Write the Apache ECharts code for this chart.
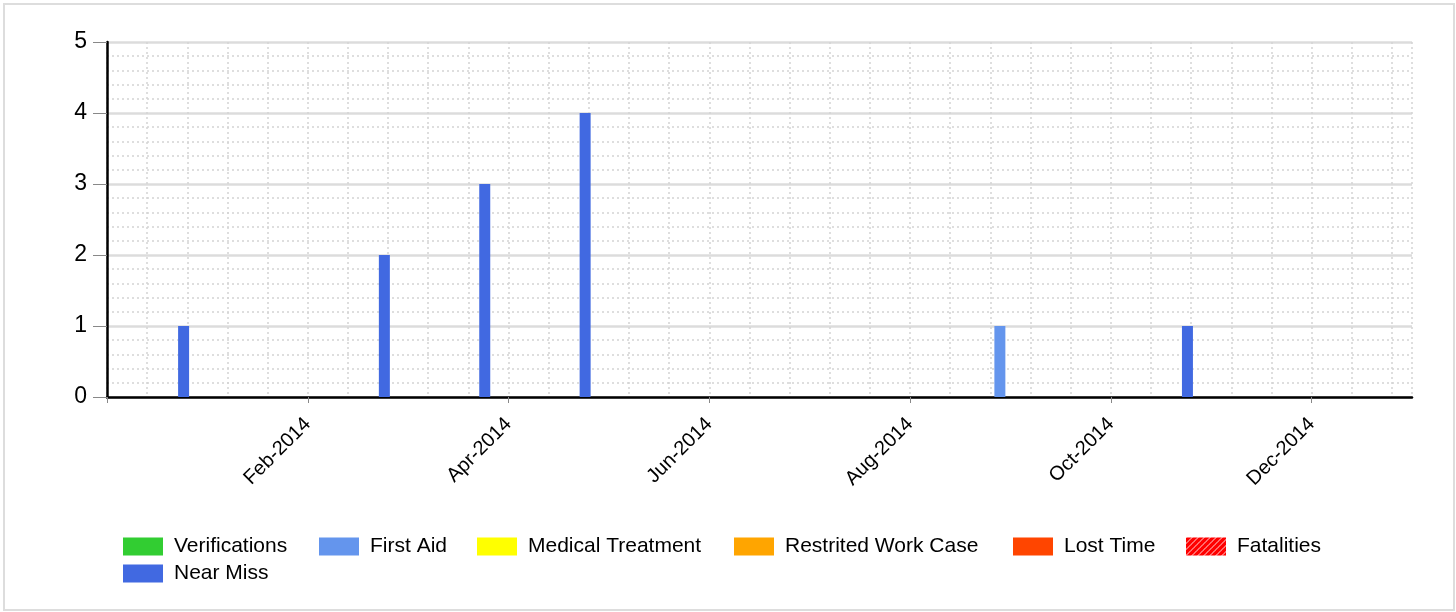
<!DOCTYPE html>
<html>
<head>
<meta charset="utf-8">
<script src="https://cdn.jsdelivr.net/npm/echarts@6/dist/echarts.min.js"></script>
<style>
  html, body { margin: 0; padding: 0; background: #fff; }
  #chart { position: absolute; left: 0; top: 0; width: 1456px; height: 612px; }
  #frame { position: absolute; left: 3px; top: 3px; width: 1452px; height: 608px;
           box-sizing: border-box; border: 2px solid #dddddd; pointer-events: none; }
</style>
</head>
<body>
<div id="chart"></div>
<div id="frame"></div>
<script>
// ---- data ----
const months = ['Dec-2013','Jan-2014','Feb-2014','Mar-2014','Apr-2014','May-2014','Jun-2014',
                'Jul-2014','Aug-2014','Sep-2014','Oct-2014','Nov-2014','Dec-2014'];
const tickMonths = ['Dec-2013','Jan-2014','Feb-2014','Mar-2014','Apr-2014','May-2014','Jun-2014',
                    'Jul-2014','Aug-2014','Sep-2014','Oct-2014','Nov-2014','Dec-2014','Jan-2015'];
const verifications     = [0,0,0,0,0,0,0,0,0,0,0,0,0];
const firstAid          = [0,0,0,0,0,0,0,0,1,0,0,0,0];
const medicalTreatment  = [0,0,0,0,0,0,0,0,0,0,0,0,0];
const restritedWorkCase = [0,0,0,0,0,0,0,0,0,0,0,0,0];
const lostTime          = [0,0,0,0,0,0,0,0,0,0,0,0,0];
const fatalities        = [0,0,0,0,0,0,0,0,0,0,0,0,0];
const nearMiss          = [1,0,2,3,4,0,0,0,0,0,1,0,0];
const yTicks = [0,1,2,3,4,5];

// ---- styles ----
const FONT = '"Liberation Sans", Arial, sans-serif';
function hatch() {
  const c = document.createElement('canvas');
  c.width = 6; c.height = 6;
  const g = c.getContext('2d');
  g.fillStyle = '#ff0000'; g.fillRect(0, 0, 6, 6);
  g.strokeStyle = 'rgba(255,255,255,0.85)'; g.lineWidth = 1;
  g.beginPath();
  g.moveTo(-1, 7); g.lineTo(7, -1);
  g.moveTo(-4, 4); g.lineTo(4, -4);
  g.moveTo(2, 10); g.lineTo(10, 2);
  g.stroke();
  return { image: c, repeat: 'repeat' };
}

const seriesDefs = [
  { name: 'Verifications', data: verifications, color: '#32cd32' },
  { name: 'Medical Treatment', data: medicalTreatment, color: '#ffff00' },
  { name: 'Restrited Work Case', data: restritedWorkCase, color: '#ffa500' },
  { name: 'Lost Time', data: lostTime, color: '#ff4500' },
  { name: 'Fatalities', data: fatalities, color: hatch() },
  { name: 'Near Miss', data: nearMiss, color: '#4169e1' },
  { name: 'First Aid', data: firstAid, color: '#6495ed' }
];

const legendPos = [
  { name: 'Verifications', left: 123, top: 536 },
  { name: 'First Aid', left: 319, top: 536 },
  { name: 'Medical Treatment', left: 477, top: 536 },
  { name: 'Restrited Work Case', left: 734, top: 536 },
  { name: 'Lost Time', left: 1013, top: 536 },
  { name: 'Fatalities', left: 1186, top: 536 },
  { name: 'Near Miss', left: 123, top: 563 }
];

const chart = echarts.init(document.getElementById('chart'), null, { renderer: 'canvas' });
const option = {
  animation: false,
  backgroundColor: '#ffffff',
  textStyle: { fontFamily: FONT },
  grid: { left: 107, top: 42, width: 1305, height: 355, containLabel: false },
  legend: legendPos.map(l => ({
    data: [l.name], left: l.left, top: l.top, padding: 0, itemGap: 0,
    icon: 'rect', itemWidth: 40, itemHeight: 18, selectedMode: false,
    textStyle: { fontFamily: FONT, fontSize: 21, color: '#000', lineHeight: 20, padding: [0, 0, 0, 6] }
  })),
  xAxis: [
    { // band axis for the bars
      type: 'category', data: months, boundaryGap: true, position: 'bottom',
      axisLine: { show: false }, axisTick: { show: false }, axisLabel: { show: false },
      splitLine: { show: false }
    },
    { // fine vertical dotted grid
      type: 'value', min: 0, max: 13, interval: 0.4, position: 'bottom',
      axisLine: { show: false }, axisTick: { show: false }, axisLabel: { show: false },
      splitLine: { show: true, lineStyle: { color: '#d4d4d4', width: 1.5, type: [2, 3] } }
    },
    { // labelled month axis
      type: 'category', data: tickMonths, boundaryGap: false, position: 'bottom',
      axisLine: { show: true, lineStyle: { color: '#000', width: 2.5 } },
      axisTick: { show: true, interval: 1, length: 6, lineStyle: { color: '#888', width: 1 } },
      axisLabel: {
        interval: 1, rotate: 45, margin: 24, fontSize: 20, color: '#000', fontFamily: FONT,
        formatter: (v, i) => (i === 0 ? '' : v)
      },
      splitLine: { show: false }
    }
  ],
  yAxis: {
    type: 'value', min: yTicks[0], max: yTicks[yTicks.length - 1], interval: 1,
    axisLine: { show: true, lineStyle: { color: '#000', width: 2.5 } },
    axisTick: { show: true, length: 14, lineStyle: { color: '#888', width: 1 } },
    axisLabel: { margin: 20, fontSize: 23, color: '#000', fontFamily: FONT },
    splitLine: { show: true, lineStyle: { color: '#dcdcdc', width: 2.5 } },
    minorTick: { show: false, splitNumber: 5 },
    minorSplitLine: { show: true, lineStyle: { color: '#d4d4d4', width: 1.5, type: [2, 3] } }
  },
  series: seriesDefs.map(s => ({
    name: s.name, type: 'bar', xAxisIndex: 0, data: s.data,
    barWidth: 11, barGap: '20%',
    itemStyle: { color: s.color }
  }))
};
chart.setOption(option);
</script>
</body>
</html>
